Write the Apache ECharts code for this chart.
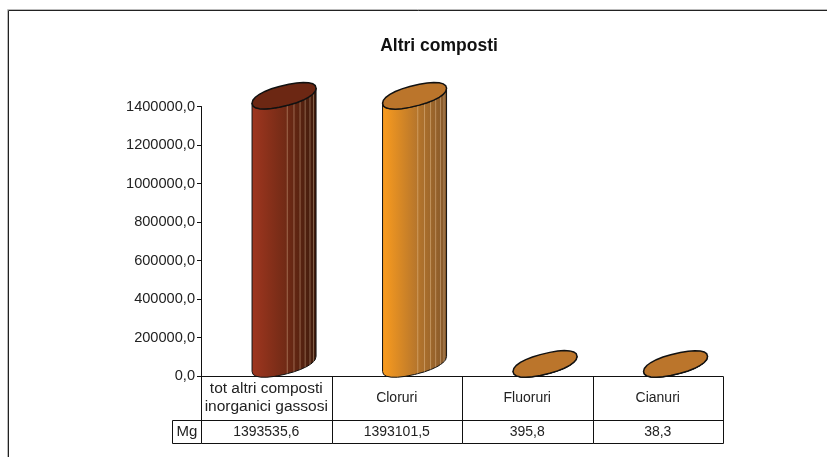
<!DOCTYPE html>
<html><head><meta charset="utf-8">
<style>html,body{margin:0;padding:0;background:#fff}#c{width:827px;height:457px}</style>
<script src="https://cdn.jsdelivr.net/npm/echarts@6/dist/echarts.min.js"></script>
</head><body><div id="c"></div>
<script>
var categories = ['tot altri composti\ninorganici gassosi', 'Cloruri', 'Fluoruri', 'Cianuri'];
var values = [1393535.6, 1393101.5, 395.8, 38.3];
var valueLabels = ['1393535,6', '1393101,5', '395,8', '38,3'];
var rowLabel = 'Mg';
var titleText = 'Altri composti';
var FONT = '"Liberation Sans", Arial, sans-serif';
var palette = [
  {l:'#a0361f', m:'#6f2a15', r:'#3d1a0b', cap:'#6c2713'},
  {l:'#fb9c1e', m:'#b5752c', r:'#82562a', cap:'#bb752b'},
  {l:'#fb9c1e', m:'#b5752c', r:'#82562a', cap:'#bb752b'},
  {l:'#fb9c1e', m:'#b5752c', r:'#82562a', cap:'#bb752b'}
];
var A = 32, K = 7.5, B = 10.5, DX = 17.8, DY = -12, P = 0.9;
function sp(v) { return (v < 0 ? -1 : 1) * Math.pow(Math.abs(v), P); }
function pt(cx, cy, t) {
  var c = sp(Math.cos(t)), s = sp(Math.sin(t));
  return [cx + A * c, cy - K * c - B * s];
}
function ring(cx, cy, from, to, n) {
  var o = [];
  for (var i = 0; i <= n; i++) o.push(pt(cx, cy, from + (to - from) * i / n));
  return o;
}
function cylinder(params, api) {
  var i = api.value(0);
  var top = api.coord([i, api.value(1)]);
  var base = api.coord([i, 0]);
  var cx = top[0] + DX, ty = top[1] + DY, by = base[1] + DY;
  var c = palette[i];
  var body = ring(cx, by, Math.PI, 2 * Math.PI, 12).concat(ring(cx, ty, 2 * Math.PI, Math.PI, 12));
  var kids = [{
    type: 'polygon', shape: {points: body},
    style: {
      fill: {type: 'linear', x: 0, y: 0, x2: 1, y2: 0, colorStops: [
        {offset: 0, color: c.l}, {offset: 0.55, color: c.m}, {offset: 1, color: c.r}]},
      stroke: '#111', lineWidth: 1
    }
  }];
  if (by - ty > 3) {
    [0.1, 0.31, 0.5, 0.66, 0.81, 0.92].forEach(function (f) {
      var t = -Math.acos(Math.pow(f, 1 / P));
      var p1 = pt(cx, ty, t), p2 = pt(cx, by, t);
      kids.push({type: 'line', shape: {x1: p1[0], y1: p1[1], x2: p2[0], y2: p2[1]},
        style: {stroke: 'rgba(255,225,190,0.35)', lineWidth: 1}});
    });
  }
  kids.push({type: 'polygon', shape: {points: ring(cx, ty, 0, 2 * Math.PI, 26)},
    style: {fill: c.cap, stroke: '#111', lineWidth: 1.5}});
  return {type: 'group', children: kids};
}
function line(x1, y1, x2, y2) {
  return {type: 'line', shape: {x1: x1, y1: y1, x2: x2, y2: y2},
    style: {stroke: '#111', lineWidth: 1}};
}
function tableCell(params, api) {
  var i = api.value(0);
  var p = api.coord([i, 0]);
  var w = api.size([1, 0])[0];
  var y0 = p[1] + 0.5, y1 = y0 + 44, y2 = y1 + 23;
  var l = Math.round(p[0] - w / 2) + 0.5, r = Math.round(p[0] + w / 2) + 0.5;
  var kids = [line(r, y0, r, y2), line(l, y1, r, y1), line(l, y2, r, y2),
    {type: 'text', style: {text: valueLabels[i], x: p[0], y: (y1 + y2) / 2, align: 'center',
      verticalAlign: 'middle', font: '14px ' + FONT, fill: '#222'}}];
  if (i === 0) {
    var h = l - 29;
    kids.push(line(l, y0, l, y2), line(h, y1, l, y1), line(h, y2, l, y2), line(h, y1, h, y2),
      {type: 'text', style: {text: rowLabel, x: (h + l) / 2, y: (y1 + y2) / 2, align: 'center',
        verticalAlign: 'middle', font: '15px ' + FONT, fill: '#222'}});
  }
  return {type: 'group', children: kids};
}
var chart = echarts.init(document.getElementById('c'), null, {renderer: 'canvas'});
chart.setOption({
  animation: false,
  backgroundColor: '#fff',
  title: {text: titleText, left: 434, top: 32, textAlign: 'center',
    textStyle: {fontFamily: FONT, fontSize: 17.5, fontWeight: 'bold', color: '#111'}},
  graphic: [
    {type: 'polyline', shape: {points: [[7.5, 470], [7.5, 9.5], [830, 9.5]]}, silent: true,
      style: {fill: 'none', stroke: '#bbb', lineWidth: 1}},
    {type: 'polyline', shape: {points: [[8.5, 470], [8.5, 10.5], [830, 10.5]]}, silent: true,
      style: {fill: 'none', stroke: '#222', lineWidth: 1}}
  ],
  grid: {left: 201, right: 104, top: 106.5, bottom: 81},
  xAxis: {type: 'category',
    data: categories.map(function (c, i) {
      return i === 0 ? {value: c, textStyle: {fontSize: 15.5, fontFamily: FONT, color: '#222',
        lineHeight: 18, verticalAlign: 'middle', align: 'center'}} : c;
    }),
    axisLine: {show: true, lineStyle: {color: '#111', width: 1}},
    axisTick: {show: false},
    axisLabel: {interval: 0, margin: 22, verticalAlign: 'middle', fontFamily: FONT, fontSize: 14,
      lineHeight: 18, color: '#222'}},
  yAxis: {type: 'value', min: 0, max: 1400000, interval: 200000,
    axisLine: {show: true, lineStyle: {color: '#111', width: 1}},
    axisTick: {show: true, length: 4, lineStyle: {color: '#111'}},
    splitLine: {show: false},
    axisLabel: {margin: 6, fontFamily: FONT, fontSize: 14.6, color: '#222',
      formatter: function (v) { return v.toFixed(1).replace('.', ','); }}},
  series: [
    {type: 'custom', clip: false, renderItem: cylinder, z: 3,
      data: values.map(function (v, i) { return [i, v]; }), encode: {x: 0, y: 1}},
    {type: 'custom', clip: false, renderItem: tableCell, z: 2, silent: true,
      data: values.map(function (v, i) { return [i, v]; }), encode: {x: 0, y: 1}}
  ]
});
</script></body></html>
